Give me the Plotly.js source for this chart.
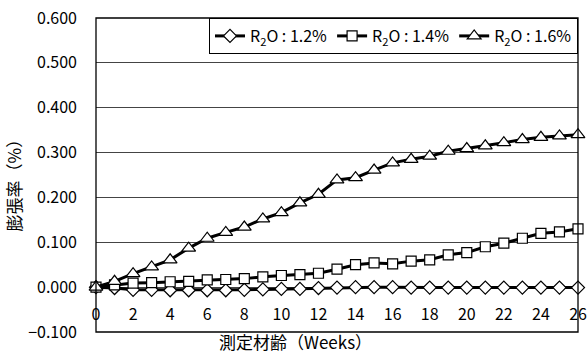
<!DOCTYPE html>
<html>
<head>
<meta charset="utf-8">
<script src="https://cdn.plot.ly/plotly-3.0.1.min.js"></script>
<style>
  html, body { margin: 0; padding: 0; background: #fff; }
  #chart { width: 587px; height: 361px; }
</style>
</head>
<body>
<div id="chart"></div>
<script>
// Measurement age in weeks
const weeks = [0,1,2,3,4,5,6,7,8,9,10,11,12,13,14,15,16,17,18,19,20,21,22,23,24,25,26];

// Expansion ratio (%) for each alkali content
const r2o12 = [0.000,-0.002,-0.006,-0.006,-0.007,-0.007,-0.007,-0.007,-0.006,-0.005,-0.004,-0.004,-0.002,-0.001,0.000,0.000,0.000,-0.001,-0.001,-0.001,-0.001,-0.001,-0.001,-0.001,-0.001,-0.001,-0.001];
const r2o14 = [0.000,0.005,0.009,0.010,0.012,0.013,0.016,0.017,0.019,0.023,0.026,0.028,0.031,0.040,0.050,0.054,0.052,0.058,0.061,0.072,0.077,0.090,0.098,0.109,0.120,0.123,0.130];
const r2o16 = [0.000,0.013,0.030,0.045,0.061,0.087,0.109,0.122,0.134,0.152,0.166,0.188,0.207,0.239,0.244,0.261,0.277,0.285,0.292,0.303,0.309,0.315,0.322,0.329,0.334,0.337,0.340];

const seriesNames = ['R<sub>2</sub>O : 1.2%', 'R<sub>2</sub>O : 1.4%', 'R<sub>2</sub>O : 1.6%'];
const xTicks = [0,2,4,6,8,10,12,14,16,18,20,22,24,26];
const yTicks = [-0.1,0.0,0.1,0.2,0.3,0.4,0.5,0.6];

const FONT = '"Noto Sans CJK JP", "Liberation Sans", Arial, sans-serif';

function series(y, name, symbol, size) {
  return {
    x: weeks, y: y, name: name, type: 'scatter', mode: 'lines+markers',
    line: { color: '#000', width: 3 },
    marker: { symbol: symbol, size: size, color: '#fff', line: { color: '#000', width: 1.2 } },
    cliponaxis: false
  };
}

const data = [
  series(r2o12, seriesNames[0], 'diamond', 10),
  series(r2o14, seriesNames[1], 'square', 10),
  series(r2o16, seriesNames[2], 'triangle-up', 12)
];

const layout = {
  width: 587, height: 361,
  margin: { l: 96, r: 9, t: 18, b: 29 },
  paper_bgcolor: '#fff', plot_bgcolor: '#fff',
  font: { family: FONT, color: '#000', size: 14 },
  showlegend: true,
  legend: {
    orientation: 'h', x: 1, xanchor: 'right', y: 1, yanchor: 'top',
    bgcolor: '#fff', bordercolor: '#000', borderwidth: 1,
    font: { family: FONT, size: 16, color: '#000' },
    itemwidth: 30, tracegroupgap: 0
  },
  xaxis: {
    range: [0, 26], tickvals: xTicks, ticktext: xTicks.map(String),
    showgrid: false, zeroline: false, showline: false, ticks: '',
    anchor: 'free', position: 1 / 7, ticklabelstandoff: 16,
    tickfont: { family: FONT, size: 16, color: '#000' }
  },
  yaxis: {
    range: [-0.1, 0.6], tickvals: yTicks, tickformat: '.3f',
    showgrid: true, gridcolor: '#444', gridwidth: 1, zeroline: false,
    showline: false, ticks: '', ticklabelstandoff: 18,
    tickfont: { family: FONT, size: 16, color: '#000' }
  },
  shapes: [
    { type: 'rect', xref: 'paper', yref: 'paper', x0: 0, x1: 1, y0: 0, y1: 1,
      line: { color: '#000', width: 1.3 }, fillcolor: 'rgba(0,0,0,0)', layer: 'above' }
  ],
  annotations: [
    { text: '測定材齢（Weeks）', xref: 'paper', yref: 'paper', x: 0.413, y: -0.03,
      xanchor: 'center', yanchor: 'middle', showarrow: false,
      font: { family: FONT, size: 17, color: '#000' } },
    { text: '膨張率（%）', xref: 'paper', yref: 'paper', x: -0.172, y: 0.48,
      xanchor: 'center', yanchor: 'middle', textangle: -90, showarrow: false,
      font: { family: FONT, size: 17, color: '#000' } }
  ]
};

Plotly.newPlot('chart', data, layout, { displayModeBar: false, staticPlot: true });
</script>
</body>
</html>
